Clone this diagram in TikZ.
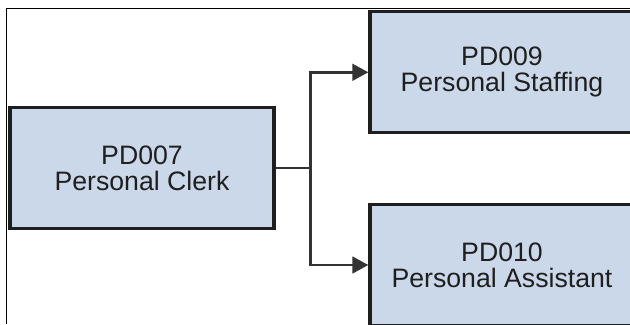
\documentclass[tikz,border=0pt]{standalone}
\usepackage{fontspec}
\setmainfont{Liberation Sans}
\usetikzlibrary{arrows.meta}
\definecolor{boxfill}{RGB}{203,216,234}
\definecolor{boxline}{RGB}{30,30,30}
\definecolor{linkline}{RGB}{51,51,51}
\begin{document}
\begin{tikzpicture}[x=0.75pt,y=0.75pt,yscale=-1,xscale=1,
  jobbox/.style={draw=boxline,fill=boxfill,line width=2.5pt,inner sep=0pt,
    minimum width=198pt,minimum height=90.75pt,align=center,text=black!88,
    font=\fontsize{20}{19.5}\selectfont},
  link/.style={draw=linkline,line width=2pt},
  tip/.style={-{Triangle[length=12pt,width=12.5pt]}}]
%set diagram size 630 x 324
\useasboundingbox (0,0) rectangle (630,324);

%Frame
\draw [line width=0.75pt]  (6.3,324) -- (6.3,8.3) -- (630,8.3) ;

%Shape: Rectangle [id:clerk]
\node [jobbox] (clerk) at (142,168) {PD007\\Personal Clerk};
%Shape: Rectangle [id:staffing]
\node [jobbox] (staffing) at (502,72.3) {PD009\\Personal Staffing};
%Shape: Rectangle [id:assistant]
\node [jobbox] (assistant) at (502,265) {PD010\\Personal Assistant};

%Straight Lines
\coordinate (split) at (310.7,168);
\draw [link]  (clerk.east) -- (split) ;
\draw [link,tip]  (split) |- (staffing.west) ;
\draw [link,tip]  (split) |- (assistant.west) ;

\end{tikzpicture}
\end{document}
